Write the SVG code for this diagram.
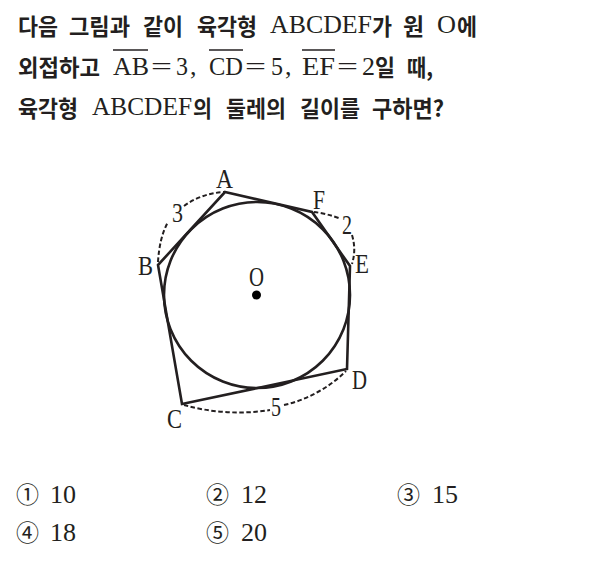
<svg xmlns="http://www.w3.org/2000/svg" width="597" height="568" viewBox="0 0 597 568">
<style>
.k{font-family:"Noto Sans CJK KR","Noto Sans",sans-serif;font-weight:700;font-size:22.5px;fill:#231f20}
.s{font-family:"Liberation Serif",serif;font-size:26px;fill:#231f20}
.l{font-family:"Liberation Serif",serif;font-size:27px;fill:#231f20}
.c{font-family:"Noto Sans CJK KR",sans-serif;font-size:23px;fill:#231f20}
.d{fill:none;stroke:#231f20;stroke-width:2;stroke-dasharray:4.5 2.5}
.m{fill:none;stroke:#231f20;stroke-width:2.6}
.o{stroke:#231f20;stroke-width:1.3}
</style>
<g id="question">
<text class="k" x="18" y="35" textLength="40" lengthAdjust="spacingAndGlyphs">다음</text>
<text class="k" x="69" y="35" textLength="61" lengthAdjust="spacingAndGlyphs">그림과</text>
<text class="k" x="143" y="35" textLength="40" lengthAdjust="spacingAndGlyphs">같이</text>
<text class="k" x="197" y="35" textLength="60" lengthAdjust="spacingAndGlyphs">육각형</text>
<text class="s" x="270" y="33" textLength="102" lengthAdjust="spacingAndGlyphs">ABCDEF</text>
<text class="k" x="372" y="35" textLength="20" lengthAdjust="spacingAndGlyphs">가</text>
<text class="k" x="403" y="35" textLength="21" lengthAdjust="spacingAndGlyphs">원</text>
<text class="s" x="437" y="33" textLength="19" lengthAdjust="spacingAndGlyphs">O</text>
<text class="k" x="457" y="35" textLength="20" lengthAdjust="spacingAndGlyphs">에</text>
<text class="k" x="18" y="76" textLength="82" lengthAdjust="spacingAndGlyphs">외접하고</text>
<line class="o" x1="113" y1="50" x2="148" y2="50"/>
<text class="s" x="113" y="75" textLength="36" lengthAdjust="spacingAndGlyphs">AB</text>
<text class="s" x="151" y="75" textLength="21" lengthAdjust="spacingAndGlyphs">=</text>
<text class="s" x="176" y="75" textLength="12" lengthAdjust="spacingAndGlyphs">3</text>
<text class="s" x="190" y="75">,</text>
<line class="o" x1="209" y1="50" x2="243" y2="50"/>
<text class="s" x="209" y="75" textLength="34" lengthAdjust="spacingAndGlyphs">CD</text>
<text class="s" x="245" y="75" textLength="21" lengthAdjust="spacingAndGlyphs">=</text>
<text class="s" x="271" y="75" textLength="12" lengthAdjust="spacingAndGlyphs">5</text>
<text class="s" x="285" y="75">,</text>
<line class="o" x1="302" y1="50" x2="335" y2="50"/>
<text class="s" x="302" y="75" textLength="33" lengthAdjust="spacingAndGlyphs">EF</text>
<text class="s" x="337" y="75" textLength="21" lengthAdjust="spacingAndGlyphs">=</text>
<text class="s" x="362" y="75" textLength="13" lengthAdjust="spacingAndGlyphs">2</text>
<text class="k" x="375" y="76" textLength="20" lengthAdjust="spacingAndGlyphs">일</text>
<text class="k" x="407" y="76" textLength="26" lengthAdjust="spacingAndGlyphs">때,</text>
<text class="k" x="18" y="117" textLength="60" lengthAdjust="spacingAndGlyphs">육각형</text>
<text class="s" x="92" y="115" textLength="100" lengthAdjust="spacingAndGlyphs">ABCDEF</text>
<text class="k" x="193" y="117" textLength="19" lengthAdjust="spacingAndGlyphs">의</text>
<text class="k" x="226" y="117" textLength="60" lengthAdjust="spacingAndGlyphs">둘레의</text>
<text class="k" x="300" y="117" textLength="60" lengthAdjust="spacingAndGlyphs">길이를</text>
<text class="k" x="372" y="117" textLength="72" lengthAdjust="spacingAndGlyphs">구하면?</text>
</g>
<g id="circle"><circle class="m" cx="257" cy="295" r="93"/></g>
<g id="center-O"><circle cx="256.500" cy="295" r="4.500" fill="#000"/><text class="l" x="249" y="286" textLength="15" lengthAdjust="spacingAndGlyphs">O</text></g>
<g id="hexagon"><polygon class="m" points="225,192 312,212 350,266 347,369 182,404 158,265"/></g>
<g id="vertex-A"><text class="l" x="216" y="188" textLength="17" lengthAdjust="spacingAndGlyphs">A</text></g>
<g id="vertex-B"><text class="l" x="138" y="275" textLength="15" lengthAdjust="spacingAndGlyphs">B</text></g>
<g id="vertex-C"><text class="l" x="167" y="428" textLength="15" lengthAdjust="spacingAndGlyphs">C</text></g>
<g id="vertex-D"><text class="l" x="352" y="389" textLength="15" lengthAdjust="spacingAndGlyphs">D</text></g>
<g id="vertex-E"><text class="l" x="355" y="273" textLength="14" lengthAdjust="spacingAndGlyphs">E</text></g>
<g id="vertex-F"><text class="l" x="313" y="209" textLength="12" lengthAdjust="spacingAndGlyphs">F</text></g>
<g id="connectors">
<path class="d" d="M158 262C159 246 162 233 168 222"/>
<path class="d" d="M184 206C195 198 208 193 224 192"/>
<path class="d" d="M314 212C322 213 331 215 341 219"/>
<path class="d" d="M352 235C355 245 355 254 352 264"/>
<path class="d" d="M184 405C208 412 240 415 270 410"/>
<path class="d" d="M284 405C307 400 330 387 346 371"/>
</g>
<g id="arc-labels">
<text class="l" x="172" y="222" textLength="11" lengthAdjust="spacingAndGlyphs">3</text>
<text class="l" x="342" y="234" textLength="10" lengthAdjust="spacingAndGlyphs">2</text>
<text class="l" x="271" y="416" textLength="10" lengthAdjust="spacingAndGlyphs">5</text>
</g>
<g id="choices">
<text class="c" x="16" y="503">①</text><text class="s" x="50" y="503">10</text>
<text class="c" x="206" y="503">②</text><text class="s" x="241" y="503">12</text>
<text class="c" x="397" y="503">③</text><text class="s" x="432" y="503">15</text>
<text class="c" x="16" y="541">④</text><text class="s" x="50" y="541">18</text>
<text class="c" x="206" y="541">⑤</text><text class="s" x="241" y="541">20</text>
</g>
</svg>
